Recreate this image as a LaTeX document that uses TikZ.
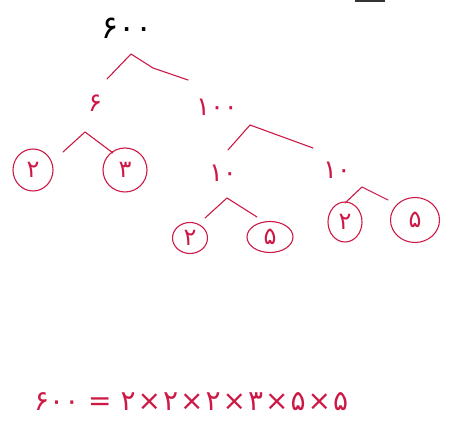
\documentclass[tikz,border=0pt]{standalone}
\usepackage{fontspec}
\usetikzlibrary{shapes.geometric}
\TeXXeTstate=1
\newfontfamily\fafont{DejaVu Sans}
\definecolor{handred}{RGB}{205,25,70}
\newcommand{\tms}{\kern2pt×\kern2pt}

\begin{document}
\begin{tikzpicture}[x=1pt,y=-1pt,
    num/.style={font=\fafont\fontsize{#1}{#1}\selectfont,inner sep=1pt},
    leg/.style={handred,line width=1.1pt,line cap=round,line join=round},
    ring/.style={num=24,text=handred,draw=handred,line width=1.1pt,ellipse,inner sep=0pt}]
\useasboundingbox (0,0) rectangle (453,427);
\draw[line width=2pt,black!80] (355,0.8) -- (385,0.8);
% tree
\node[num=32] (n600) at (127,28) {۶۰۰};
\node[num=26,text=handred] (n6) at (95,103) {۶};
\node[num=26,text=handred] (n100) at (217,107) {۱۰۰};
\node[num=26,text=handred] (n10a) at (223,173) {۱۰};
\node[num=26,text=handred] (n10b) at (337,170) {۱۰};
\node[ring,minimum width=40pt,minimum height=42pt] (c2a) at (33,170) {۲};
\node[ring,minimum width=44pt,minimum height=44pt] (c3) at (125,170) {۳};
\node[ring,minimum width=35pt,minimum height=31pt] (c2b) at (190,238) {۲};
\node[ring,minimum width=46pt,minimum height=31pt] (c5a) at (270,237) {۵};
\node[ring,minimum width=34pt,minimum height=40pt] (c2c) at (345,222) {۲};
\node[ring,minimum width=49pt,minimum height=45pt] (c5b) at (415,220) {۵};
% branch points
\coordinate (t600) at (131,54);
\coordinate (t6) at (85,132);
\coordinate (t100) at (250,125);
\coordinate (t10a) at (227,198);
\coordinate (t10b) at (362,187);
\draw[leg] (107,79) -- (t600) -- (153,68) -- (188,80);
\draw[leg] (63,152) -- (t6) -- (113,153);
\draw[leg] (228,150) -- (t100) -- (313,148);
\draw[leg] (205,218) -- (t10a) -- (257,217);
\draw[leg] (345,203) -- (t10b) -- (388,200);
% result
\node[num=28,text=handred,anchor=west] (eq) at (33,402) {\beginL۶۰۰ = ۲\tms۲\tms۲\tms۳\tms۵\tms۵\endL};
\end{tikzpicture}
\end{document}
